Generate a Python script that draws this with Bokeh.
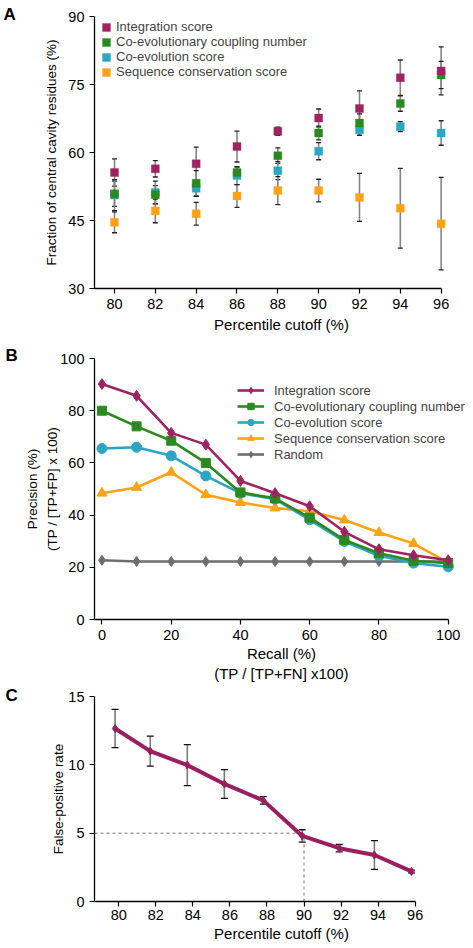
from bokeh.plotting import figure
from bokeh.layouts import column
from bokeh.models import (Range1d, ColumnDataSource, Whisker, TeeHead, Legend,
                          LegendItem)
from bokeh.embed import file_html
from bokeh.resources import INLINE

FONT = "Liberation Sans"

# ---------------- Panel A data ----------------
cutoffs_a = [80, 82, 84, 86, 88, 90, 92, 94, 96]
integration_a = [55.6, 56.4, 57.5, 61.3, 64.7, 67.6, 69.7, 76.5, 78.0]
integration_a_err = [3.0, 1.8, 3.7, 3.4, 0.9, 2.0, 3.9, 3.9, 5.3]
coupling_a = [50.9, 50.7, 53.2, 55.6, 59.3, 64.3, 66.5, 70.8, 77.1]
coupling_a_err = [2.8, 2.0, 2.8, 1.2, 1.7, 1.5, 2.0, 1.7, 3.0]
coevol_a = [50.6, 51.2, 52.1, 54.9, 56.0, 60.3, 65.0, 65.7, 64.3]
coevol_a_err = [3.4, 2.5, 1.8, 2.0, 2.0, 1.9, 1.2, 1.1, 2.7]
conserv_a = [44.6, 47.1, 46.5, 50.4, 51.6, 51.6, 50.1, 47.7, 44.3]
conserv_a_err = [2.3, 2.6, 2.5, 2.5, 3.1, 2.5, 5.3, 8.8, 10.2]
a_xticks = [80, 82, 84, 86, 88, 90, 92, 94, 96]
a_yticks = [30, 45, 60, 75, 90]

# ---------------- Panel B data ----------------
recall_b = [0, 10, 20, 30, 40, 50, 60, 70, 80, 90, 100]
integration_b = [90.2, 85.7, 71.5, 67.0, 53.1, 48.4, 43.4, 33.6, 26.9, 24.6, 22.7]
coupling_b = [80.0, 74.0, 68.5, 60.0, 48.7, 46.4, 39.0, 30.5, 25.4, 22.5, 21.6]
coevol_b = [65.5, 66.0, 62.7, 55.0, 48.4, 46.1, 38.2, 29.9, 24.4, 21.6, 20.2]
conserv_b = [48.4, 50.6, 56.4, 47.8, 44.8, 42.7, 41.5, 38.1, 33.3, 29.1, 21.8]
random_b = [22.7, 22.2, 22.2, 22.2, 22.2, 22.2, 22.2, 22.2, 22.2, 22.2, 22.2]
b_xticks = [0, 20, 40, 60, 80, 100]
b_yticks = [0, 20, 40, 60, 80, 100]

# ---------------- Panel C data ----------------
cutoffs_c = [79.8, 81.7, 83.7, 85.7, 87.8, 89.9, 91.9, 93.8, 95.8]
fpr_c = [12.66, 11.0, 9.98, 8.6, 7.4, 4.8, 3.9, 3.4, 2.2]
fpr_c_err = [1.4, 1.1, 1.5, 1.05, 0.28, 0.45, 0.27, 1.05, 0.1]
c_xticks = [80, 82, 84, 86, 88, 90, 92, 94, 96]
c_yticks = [0, 5, 10, 15]
fpr_threshold = 5
cutoff_threshold = 90

names = ["Integration score", "Co-evolutionary coupling number",
         "Co-evolution score", "Sequence conservation score", "Random"]
MAGENTA = "#9E2461"
GREEN = "#2B8A1F"
CYAN = "#2BA6C2"
ORANGE = "#FFA214"
GRAY = "#6E6E6E"

W = 473
BL, BR = 94, 5   # common left / right borders (column aligns frames)


def style(p, xticks, yticks, xlabel, ylabel):
    p.xgrid.visible = False
    p.ygrid.visible = False
    p.outline_line_color = None
    p.background_fill_color = "white"
    p.border_fill_color = "white"
    p.xaxis.ticker = xticks
    p.yaxis.ticker = yticks
    p.xaxis.axis_label = xlabel
    p.yaxis.axis_label = ylabel
    for ax in (p.xaxis[0], p.yaxis[0]):
        ax.axis_line_width = 1.3
        ax.axis_line_color = "black"
        ax.major_tick_line_color = "black"
        ax.major_tick_line_width = 1.2
        ax.major_tick_out = 5
        ax.major_tick_in = 0
        ax.minor_tick_line_color = None
        ax.major_label_text_font = FONT
        ax.major_label_text_font_size = "14.5px"
        ax.major_label_text_color = "black"
        ax.major_label_standoff = 5
        ax.axis_label_text_font = FONT
        ax.axis_label_text_font_style = "normal"
        ax.axis_label_text_color = "black"
    p.xaxis.axis_label_text_font_size = "15px"
    p.yaxis.axis_label_text_font_size = "13.5px"
    p.xaxis.axis_label_standoff = 4
    p.yaxis.axis_label_standoff = 6


def letter(p, txt, offset, standoff):
    t = p.title
    t.text = txt
    t.align = "left"
    t.vertical_align = "bottom"
    t.offset = offset
    t.standoff = standoff
    t.text_font = FONT
    t.text_font_style = "bold"
    t.text_font_size = "17px"
    t.text_color = "black"


def whiskers(p, xs, ys, errs, stem, cap, cap_size):
    src = ColumnDataSource(dict(x=xs, upper=[v + e for v, e in zip(ys, errs)],
                                lower=[v - e for v, e in zip(ys, errs)]))
    w = Whisker(source=src, base="x", upper="upper", lower="lower",
                line_color=stem, line_width=1.6,
                upper_head=TeeHead(size=cap_size, line_color=cap, line_width=1.3),
                lower_head=TeeHead(size=cap_size, line_color=cap, line_width=1.3))
    p.add_layout(w)


# ================= Panel A =================
a_x0 = 79.02
pa = figure(width=W, height=340, output_backend="svg", toolbar_location=None,
            x_range=Range1d(a_x0, 97.34), y_range=Range1d(30, 90),
            min_border_left=BL, min_border_right=BR, min_border_top=16,
            min_border_bottom=52)
style(pa, a_xticks, a_yticks, "Percentile cutoff (%)",
      "Fraction of central cavity residues (%)")
pa.xaxis.bounds = (a_x0, 96)

series_a = [(integration_a, integration_a_err, MAGENTA),
            (coupling_a, coupling_a_err, GREEN),
            (coevol_a, coevol_a_err, CYAN),
            (conserv_a, conserv_a_err, ORANGE)]
for vals, errs, col in series_a:
    whiskers(pa, cutoffs_a, vals, errs, "#858585", "#222222", 5)
rend_a = {}
for i in [3, 2, 1, 0]:
    vals, errs, col = series_a[i]
    rend_a[i] = pa.rect(x=cutoffs_a, y=vals, width=8, height=8,
                        width_units="screen", height_units="screen",
                        fill_color=col, line_color=col, line_alpha=0.35)
leg_a = Legend(items=[LegendItem(label=names[i], renderers=[rend_a[i]]) for i in range(4)],
               location=(7, 209), glyph_width=10, glyph_height=10,
               label_height=14, spacing=-3, padding=0, margin=0,
               label_standoff=5, label_text_font=FONT,
               label_text_font_size="13px", border_line_color=None,
               background_fill_alpha=0)
pa.add_layout(leg_a)
letter(pa, "A", -91, -15)

# ================= Panel B =================
b_x0 = -2.15
pb = figure(width=W, height=346, output_backend="svg", toolbar_location=None,
            x_range=Range1d(b_x0, 105.86), y_range=Range1d(0, 100),
            min_border_left=BL, min_border_right=BR, min_border_top=18,
            min_border_bottom=67)
style(pb, b_xticks, b_yticks, "Recall (%)\n(TP / [TP+FN] x100)",
      "Precision (%)\n(TP / [TP+FP] x 100)")
pb.xaxis.bounds = (b_x0, 100)
pb.yaxis.axis_label_standoff = -3
pb.yaxis.axis_label_text_line_height = 1.35
pb.xaxis.axis_label_standoff = 2

series_b = [(integration_b, MAGENTA, "diamond", 11),
            (coupling_b, GREEN, "square", 9),
            (coevol_b, CYAN, "circle", 10),
            (conserv_b, ORANGE, "triangle", 10),
            (random_b, GRAY, "diamond", 10)]
items_b = []
for i in [4, 3, 2, 1, 0]:
    vals, col, mk, sz = series_b[i]
    rl = pb.line(recall_b, vals, line_color=col, line_width=2.6)
    rs = pb.scatter(recall_b, vals, marker=mk, size=sz, fill_color=col, line_color=col)
    items_b.append((i, LegendItem(label=names[i], renderers=[rl, rs])))
items_b.sort(key=lambda t: t[0])
leg_b = Legend(items=[it for _, it in items_b], location=(143, 157),
               glyph_width=27, glyph_height=16, label_height=16, spacing=0,
               padding=0, margin=0, label_standoff=10, label_text_font=FONT,
               label_text_font_size="13px", border_line_color=None,
               background_fill_alpha=0)
pb.add_layout(leg_b)
letter(pb, "B", -89, -13)

# ================= Panel C =================
c_x0 = 78.69
pc = figure(width=W, height=262, output_backend="svg", toolbar_location=None,
            x_range=Range1d(c_x0, 98.88), y_range=Range1d(0, 15),
            min_border_left=BL, min_border_right=BR, min_border_top=10,
            min_border_bottom=47)
style(pc, c_xticks, c_yticks, "Percentile cutoff (%)", "False-positive rate")
pc.xaxis.bounds = (c_x0, 96)
pc.xaxis.major_label_standoff = 3
pc.xaxis.axis_label_standoff = 2
pc.yaxis.axis_label_standoff = -1
pc.segment(x0=[c_x0, cutoff_threshold], y0=[fpr_threshold, 0],
           x1=[cutoff_threshold, cutoff_threshold], y1=[fpr_threshold, fpr_threshold],
           line_color="#777777", line_width=1, line_dash="3 3")
whiskers(pc, cutoffs_c, fpr_c, fpr_c_err, "#7a7a7a", "#111111", 7)
pc.line(cutoffs_c, fpr_c, line_color="#9A1F5E", line_width=4)
pc.scatter(cutoffs_c, fpr_c, marker="diamond", size=8, fill_color="#9A1F5E",
           line_color="#9A1F5E")
letter(pc, "C", -89, -16)

layout = column(pa, pb, pc, spacing=0)
open("out.html", "w").write(file_html(layout, INLINE))
